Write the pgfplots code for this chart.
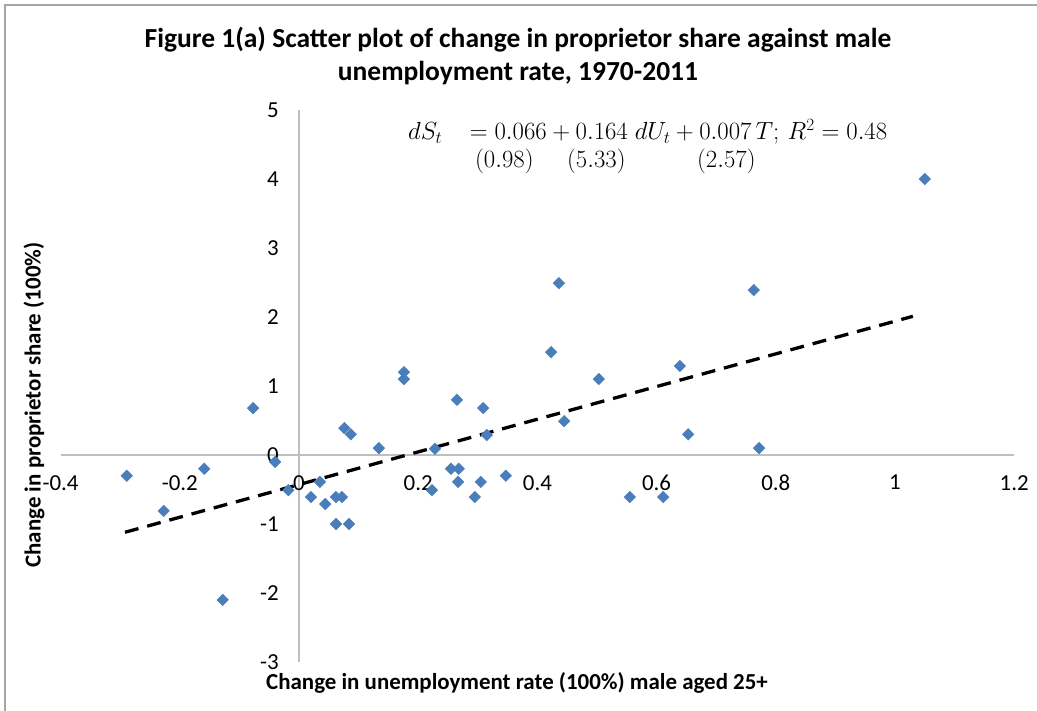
\documentclass[border=0pt]{standalone}
\usepackage{pgfplots}
\pgfplotsset{compat=1.18}
\usepackage{fontspec}
\setmainfont{Carlito}
\definecolor{ptblue}{HTML}{4A7EBB}
\definecolor{axgray}{HTML}{BFBFBF}
\definecolor{bordergray}{HTML}{A6A6A6}
\begin{document}
\begin{tikzpicture}[x=1bp,y=1bp]
\useasboundingbox (0,0) rectangle (1037,711);
\draw[color=bordergray, line width=2bp] (5,0) -- (5,706) -- (1037,706);
\node[anchor=base, inner sep=0pt, font=\fontsize{27.6}{32}\selectfont\bfseries] at (518,663) {Figure 1(a) Scatter plot of change in proprietor share against male};
\node[anchor=base, inner sep=0pt, font=\fontsize{27.6}{32}\selectfont\bfseries] at (518,630) {unemployment rate, 1970-2011};
\begin{axis}[
  at={(60.6bp,49bp)}, anchor=south west, scale only axis,
  width=953.6bp, height=552bp,
  xmin=-0.4, xmax=1.2, ymin=-3, ymax=5,
  axis lines=middle,
  axis line style={draw=axgray, line width=1.5bp, -},
  xtick={-0.4,-0.2,0,0.2,0.4,0.6,0.8,1,1.2},
  ytick={-3,-2,-1,0,1,2,3,4,5},
  hide obscured x ticks=false, hide obscured y ticks=false,
  major tick length=0pt,
  tick label style={font=\fontsize{23}{28}\selectfont, inner sep=2bp},
  /pgf/number format/assume math mode=true,
  xticklabel style={anchor=north, yshift=-18bp},
  yticklabel style={anchor=east, xshift=-18bp},
  clip=false,
]
\addplot[only marks, mark=square*, mark size=4.1bp, mark options={rotate=45, fill=ptblue, draw=ptblue}] table {
x y
-0.289 -0.30
-0.227 -0.81
-0.159 -0.20
-0.128 -2.10
-0.077 0.68
-0.040 -0.10
-0.018 -0.51
0.020 -0.61
0.035 -0.39
0.044 -0.71
0.062 -0.61
0.072 -0.61
0.062 -1.00
0.084 -1.00
0.076 0.39
0.087 0.30
0.134 0.10
0.176 1.20
0.176 1.10
0.228 0.09
0.223 -0.51
0.255 -0.20
0.268 -0.20
0.267 -0.39
0.265 0.80
0.295 -0.61
0.305 -0.39
0.309 0.68
0.315 0.29
0.347 -0.30
0.423 1.49
0.436 2.49
0.445 0.49
0.503 1.10
0.555 -0.61
0.611 -0.61
0.639 1.29
0.653 0.30
0.763 2.39
0.772 0.10
1.050 4.00
};
\addplot[black, line width=3.3bp, dash pattern=on 14bp off 9bp] coordinates {(-0.292,-1.12) (1.03,2.01)};
\end{axis}
\node[anchor=base west, inner sep=0pt, font=\fontsize{23.5}{28}\selectfont] at (408,571) {$dS_t\;\;\; = 0.066 + 0.164\; dU_t + 0.007\, T;\, R^2 = 0.48$};
\node[anchor=base west, inner sep=0pt, font=\fontsize{23.5}{28}\selectfont] at (475,543) {$(0.98)$};
\node[anchor=base west, inner sep=0pt, font=\fontsize{23.5}{28}\selectfont] at (567,543) {$(5.33)$};
\node[anchor=base west, inner sep=0pt, font=\fontsize{23.5}{28}\selectfont] at (697,543) {$(2.57)$};
\node[anchor=base, inner sep=0pt, font=\fontsize{23}{28}\selectfont\bfseries] at (517,21) {Change in unemployment rate (100\%) male aged 25+};
\node[anchor=center, rotate=90, inner sep=0pt, font=\fontsize{23}{28}\selectfont\bfseries] at (34,306) {Change in proprietor share (100\%)};
\end{tikzpicture}
\end{document}
